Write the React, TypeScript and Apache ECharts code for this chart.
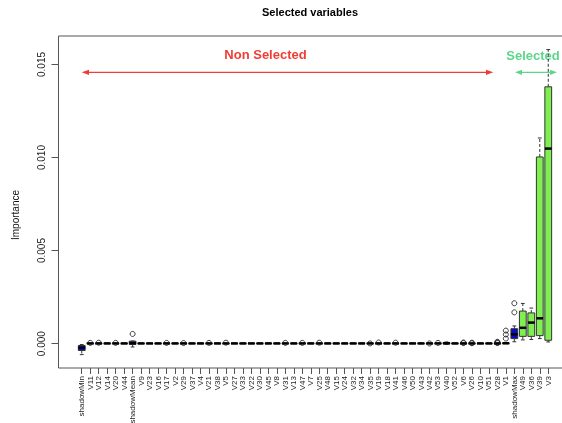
import React, { useEffect, useRef } from "react";
import * as echarts from "echarts";

const categories = [
  "shadowMin", "V11", "V12", "V14", "V20", "V44", "shadowMean", "V9", "V23", "V16",
  "V17", "V2", "V29", "V37", "V4", "V21", "V38", "V5", "V27", "V33",
  "V22", "V30", "V45", "V8", "V31", "V13", "V47", "V7", "V25", "V48",
  "V15", "V24", "V32", "V34", "V35", "V19", "V18", "V41", "V46", "V50",
  "V43", "V42", "V53", "V40", "V52", "V6", "V26", "V10", "V51", "V28",
  "V1", "shadowMax", "V49", "V36", "V39", "V3",
];

// 0 = shadow, 1 = rejected, 2 = confirmed
const statuses = [
  0, 1, 1, 1, 1, 1, 0, 1, 1, 1,
  1, 1, 1, 1, 1, 1, 1, 1, 1, 1,
  1, 1, 1, 1, 1, 1, 1, 1, 1, 1,
  1, 1, 1, 1, 1, 1, 1, 1, 1, 1,
  1, 1, 1, 1, 1, 1, 1, 1, 1, 1,
  1, 0, 2, 2, 2, 2,
];

const mins = [
  -0.00059, 0, 0, 0, 0, 0, -0.00018, 0, 0, 0,
  0, 0, 0, 0, 0, 0, 0, 0, 0, 0,
  0, 0, 0, 0, 0, 0, 0, 0, 0, 0,
  0, 0, 0, 0, 0, 0, 0, 0, 0, 0,
  0, 0, 0, -0.00004, 0, 0, 0, 0, 0, 0,
  0, 0.0001, 0.0002, 0.00022, 0.00027, 0.00009,
];
const q1s = [
  -0.00037, 0, 0, 0, 0, 0, -0.00004, 0, 0, 0,
  0, 0, 0, 0, 0, 0, 0, 0, 0, 0,
  0, 0, 0, 0, 0, 0, 0, 0, 0, 0,
  0, 0, 0, 0, 0, 0, 0, 0, 0, 0,
  0, 0, 0, -0.00002, 0, 0, 0, 0, 0, 0,
  0, 0.00027, 0.00039, 0.00039, 0.00043, 0.00018,
];
const medians = [
  -0.00022, 0.00001, 0.00001, 0.00001, 0.00001, 0.00001, 0.00002, 0.00001, 0.00001, 0.00001,
  0.00001, 0.00001, 0.00001, 0.00001, 0.00001, 0.00001, 0.00001, 0.00001, 0.00001, 0.00001,
  0.00001, 0.00001, 0.00001, 0.00001, 0.00001, 0.00001, 0.00001, 0.00001, 0.00001, 0.00001,
  0.00001, 0.00001, 0.00001, 0.00001, 0.00001, 0.00001, 0.00001, 0.00001, 0.00001, 0.00001,
  0.00001, 0.00001, 0.00001, 0.00002, 0.00001, 0.00001, 0.00001, 0.00001, 0.00001, 0.00001,
  0.00002, 0.0005, 0.00085, 0.00113, 0.00136, 0.01048,
];
const q3s = [
  -0.0001, 0.00002, 0.00002, 0.00002, 0.00002, 0.00002, 0.00013, 0.00002, 0.00002, 0.00002,
  0.00002, 0.00002, 0.00002, 0.00002, 0.00002, 0.00002, 0.00002, 0.00002, 0.00002, 0.00002,
  0.00002, 0.00002, 0.00002, 0.00002, 0.00002, 0.00002, 0.00002, 0.00002, 0.00002, 0.00002,
  0.00002, 0.00002, 0.00002, 0.00002, 0.00002, 0.00002, 0.00002, 0.00002, 0.00002, 0.00002,
  0.00002, 0.00002, 0.00002, 0.00006, 0.00002, 0.00002, 0.00002, 0.00002, 0.00002, 0.00002,
  0.00003, 0.0008, 0.00175, 0.00165, 0.01003, 0.0138,
];
const maxs = [
  -0.00005, 0.00003, 0.00003, 0.00003, 0.00003, 0.00003, 0.00014, 0.00003, 0.00003, 0.00003,
  0.00003, 0.00003, 0.00003, 0.00003, 0.00003, 0.00003, 0.00003, 0.00003, 0.00003, 0.00003,
  0.00003, 0.00003, 0.00003, 0.00003, 0.00003, 0.00003, 0.00003, 0.00003, 0.00003, 0.00003,
  0.00003, 0.00003, 0.00003, 0.00003, 0.00003, 0.00003, 0.00003, 0.00003, 0.00003, 0.00003,
  0.00003, 0.00003, 0.00003, 0.00009, 0.00003, 0.00003, 0.00003, 0.00003, 0.00003, 0.00003,
  0.00004, 0.00095, 0.00216, 0.00191, 0.01105, 0.0158,
];

const outlierCategories = [
  "V11", "V12", "V20", "shadowMean", "V17", "V29", "V21", "V5", "V31", "V47",
  "V25", "V35", "V19", "V41", "V42", "V53", "V6", "V6", "V26", "V26",
  "V28", "V28", "V28", "V1", "V1", "V1", "shadowMax", "shadowMax",
];
const outlierValues = [
  0.00004, 0.00005, 0.00004, 0.00052, 0.00004, 0.00003, 0.00004, 0.00005, 0.00004, 0.00004,
  0.00005, 0.00001, 0.00006, 0.00005, 0.00001, 0.00004, 0.00003, 0.00006, 0.00002, 0.00005,
  0.00003, 0.00006, 0.0001, 0.00027, 0.00049, 0.0007, 0.00168, 0.00217,
];

const yTicks = [0, 0.005, 0.01, 0.015];
const statusColors = ["#0a0acf", "#d42020", "#80f050"];

const FONT = "'Liberation Sans', Arial, Helvetica, sans-serif";

export default function App() {
  const ref = useRef<HTMLDivElement>(null);

  useEffect(() => {
    if (!ref.current) return;
    const chart = echarts.init(ref.current, undefined, { renderer: "svg" });

    const boxData = categories.map((_, i) => [
      i + 1, mins[i], q1s[i], medians[i], q3s[i], maxs[i], statuses[i],
    ]);
    const outlierData = outlierCategories.map((c, k) => [
      categories.indexOf(c) + 1, outlierValues[k],
    ]);
    const xTicks = categories.map((_, i) => i + 1);

    const redC = "#ef3d35";
    const greenC = "#5cd68a";
    const ay = 72.3;

    chart.setOption({
      animation: false,
      grid: {
        left: 58.5,
        right: 0.5,
        top: 36,
        bottom: 55,
        show: true,
        borderColor: "#555",
        borderWidth: 1,
        backgroundColor: "transparent",
        containLabel: false,
        outerBoundsMode: "none",
      },
      xAxis: {
        type: "value",
        min: -1.74,
        max: 58.74,
        axisLine: { show: false, onZero: false },
        splitLine: { show: false },
        axisTick: {
          show: true,
          customValues: xTicks,
          length: 6,
          lineStyle: { color: "#555" },
        },
        axisLabel: {
          customValues: xTicks,
          rotate: 90,
          fontSize: 8,
          margin: 8,
          color: "#222",
          fontFamily: FONT,
          formatter: (v: number) => categories[Math.round(v) - 1] ?? "",
        },
      },
      yAxis: {
        type: "value",
        min: -0.00131,
        max: 0.01653,
        axisLine: { show: false, onZero: false },
        splitLine: { show: false },
        axisTick: {
          show: true,
          customValues: yTicks,
          length: 7,
          lineStyle: { color: "#555" },
        },
        axisLabel: {
          customValues: yTicks,
          rotate: 90,
          fontSize: 10,
          margin: 12,
          color: "#222",
          fontFamily: FONT,
          formatter: (v: number) => v.toFixed(3),
        },
      },
      series: [
        {
          type: "custom",
          data: boxData,
          encode: { x: 0, y: [1, 2, 3, 4, 5] },
          z: 2,
          renderItem: (params: any, api: any) => {
            const x = api.value(0);
            const vMin = api.value(1);
            const vQ1 = api.value(2);
            const vMed = api.value(3);
            const vQ3 = api.value(4);
            const vMax = api.value(5);
            const st = api.value(6);
            const w = api.size([0.8, 0])[0];
            const half = w / 2;
            const sw = w * 0.28;
            const pMin = api.coord([x, vMin]);
            const pQ1 = api.coord([x, vQ1]);
            const pMed = api.coord([x, vMed]);
            const pQ3 = api.coord([x, vQ3]);
            const pMax = api.coord([x, vMax]);
            const cx = pMed[0];
            const lineStyle = { stroke: "#333", lineWidth: 1 };
            return {
              type: "group",
              children: [
                {
                  type: "line",
                  shape: { x1: cx, y1: pQ3[1], x2: cx, y2: pMax[1] },
                  style: { ...lineStyle, lineDash: [3, 2] },
                },
                {
                  type: "line",
                  shape: { x1: cx, y1: pQ1[1], x2: cx, y2: pMin[1] },
                  style: { ...lineStyle, lineDash: [3, 2] },
                },
                {
                  type: "line",
                  shape: { x1: cx - sw, y1: pMax[1], x2: cx + sw, y2: pMax[1] },
                  style: lineStyle,
                },
                {
                  type: "line",
                  shape: { x1: cx - sw, y1: pMin[1], x2: cx + sw, y2: pMin[1] },
                  style: lineStyle,
                },
                {
                  type: "rect",
                  shape: { x: cx - half, y: pQ3[1], width: w, height: pQ1[1] - pQ3[1] },
                  style: { fill: statusColors[st], stroke: "#333", lineWidth: 1 },
                },
                {
                  type: "line",
                  shape: { x1: cx - half, y1: pMed[1], x2: cx + half, y2: pMed[1] },
                  style: { stroke: "#000", lineWidth: 2.5 },
                },
              ],
            };
          },
        },
        {
          type: "scatter",
          data: outlierData,
          symbol: "circle",
          symbolSize: 5,
          z: 3,
          itemStyle: { color: "transparent", borderColor: "#111", borderWidth: 1 },
        },
      ],
      graphic: [
        {
          type: "text",
          x: 310,
          y: 12,
          style: {
            text: "Selected variables",
            fontSize: 11,
            fontWeight: "bold",
            fontFamily: FONT,
            fill: "#000",
            textAlign: "center",
            textVerticalAlign: "middle",
          },
        },
        {
          type: "text",
          x: 15,
          y: 215,
          rotation: Math.PI / 2,
          style: {
            text: "Importance",
            fontSize: 10,
            fontFamily: FONT,
            fill: "#111",
            textAlign: "center",
            textVerticalAlign: "middle",
          },
        },
        {
          type: "text",
          x: 265.5,
          y: 54,
          style: {
            text: "Non Selected",
            fontSize: 13,
            fontWeight: "bold",
            fontFamily: FONT,
            fill: redC,
            textAlign: "center",
            textVerticalAlign: "middle",
          },
        },
        {
          type: "text",
          x: 533,
          y: 55,
          style: {
            text: "Selected",
            fontSize: 13,
            fontWeight: "bold",
            fontFamily: FONT,
            fill: greenC,
            textAlign: "center",
            textVerticalAlign: "middle",
          },
        },
        {
          type: "line",
          shape: { x1: 85, y1: ay, x2: 490, y2: ay },
          style: { stroke: redC, lineWidth: 1.3 },
        },
        {
          type: "polygon",
          shape: { points: [[81.7, ay], [89, ay - 2.6], [89, ay + 2.6]] },
          style: { fill: redC },
        },
        {
          type: "polygon",
          shape: { points: [[493.3, ay], [486, ay - 2.6], [486, ay + 2.6]] },
          style: { fill: redC },
        },
        {
          type: "line",
          shape: { x1: 518, y1: ay, x2: 554, y2: ay },
          style: { stroke: greenC, lineWidth: 1.3 },
        },
        {
          type: "polygon",
          shape: { points: [[515, ay], [522, ay - 2.6], [522, ay + 2.6]] },
          style: { fill: greenC },
        },
        {
          type: "polygon",
          shape: { points: [[557, ay], [550, ay - 2.6], [550, ay + 2.6]] },
          style: { fill: greenC },
        },
      ],
    });

    return () => chart.dispose();
  }, []);

  return (
    <div
      ref={ref}
      style={{ position: "fixed", left: 0, top: 0, width: 572, height: 423 }}
    />
  );
}
